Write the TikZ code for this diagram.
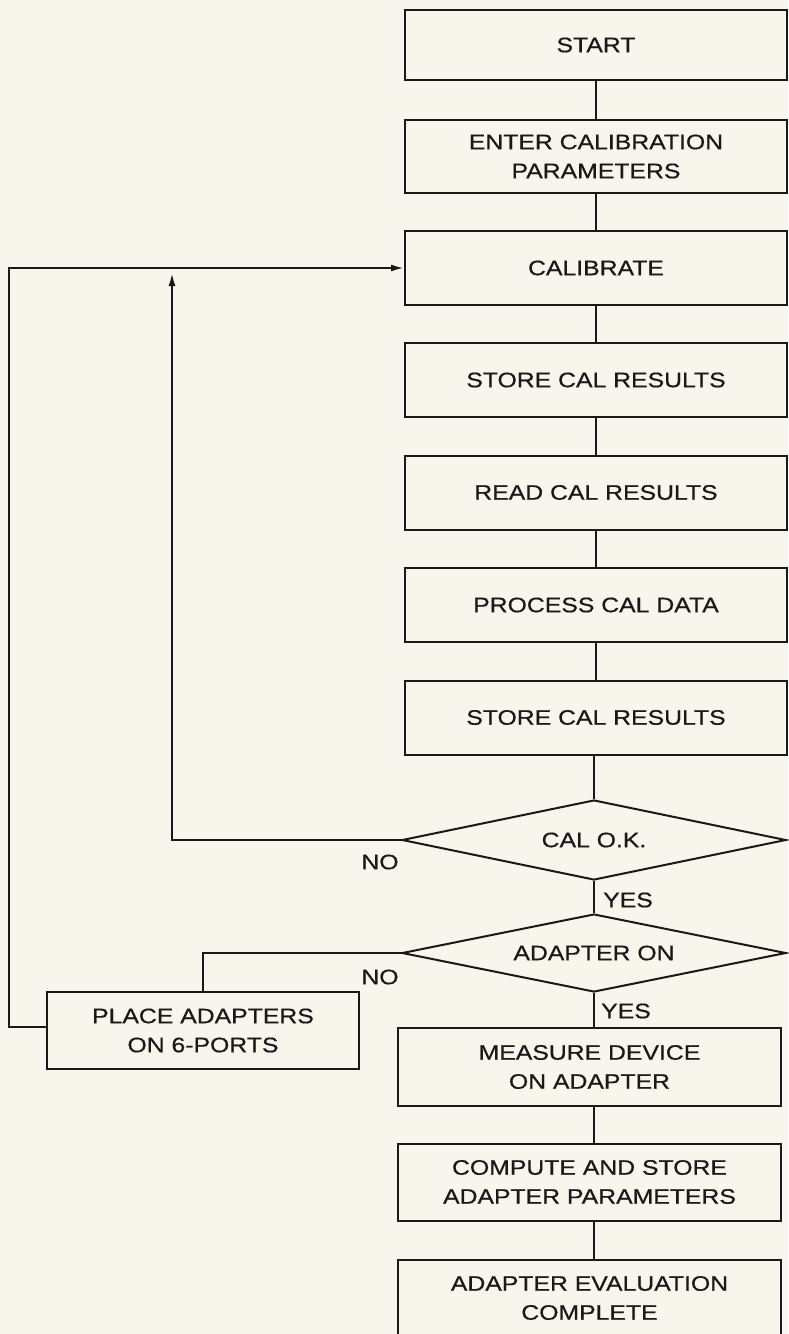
\documentclass[tikz,border=0pt]{standalone}
\usepackage{fontspec}
\setmainfont{Liberation Sans}[FakeStretch=1.18,FakeBold=0.6]
\usetikzlibrary{shapes.geometric,arrows.meta}
\definecolor{paper}{RGB}{247,245,236}
\definecolor{ink}{RGB}{25,25,25}
\begin{document}
\begin{tikzpicture}[x=1pt,y=-1pt,
  every node/.style={font=\fontsize{21}{29}\selectfont, text=ink},
  box/.style={draw=ink, line width=2pt, rectangle, align=center, inner sep=0pt},
  topbox/.style={box, minimum width=382pt, minimum height=74pt},
  lowbox/.style={box, minimum width=383pt, minimum height=77pt},
  dec/.style={draw=ink, line width=2pt, diamond, aspect=4.8, inner sep=0pt, minimum width=384pt, minimum height=80pt},
  link/.style={draw=ink, line width=2pt},
  arr/.style={link, -{Latex[length=13pt,width=7pt]}},
  lab/.style={inner sep=0pt}]
\fill[paper] (0,0) rectangle (788,1334);
\useasboundingbox (0,0) rectangle (788,1334);

\node[topbox, minimum height=70pt] (start) at (596,45) {START};
\node[topbox, minimum height=73pt] (enter) at (596,156.5) {ENTER CALIBRATION\\PARAMETERS};
\node[topbox] (calib) at (596,268) {CALIBRATE};
\node[topbox] (store1) at (596,380) {STORE CAL RESULTS};
\node[topbox] (read) at (596,492.5) {READ CAL RESULTS};
\node[topbox] (process) at (596,605) {PROCESS CAL DATA};
\node[topbox] (store2) at (596,717.5) {STORE CAL RESULTS};
\node[dec] (calok) at (594,840) {CAL O.K.};
\node[dec, minimum height=78pt] (adapter) at (594,953) {ADAPTER ON};
\node[box, minimum width=312pt, minimum height=77pt] (place) at (203,1030.5) {PLACE ADAPTERS\\ON 6-PORTS};
\node[lowbox, minimum height=78pt] (measure) at (589.5,1067) {MEASURE DEVICE\\ON ADAPTER};
\node[lowbox] (compute) at (589.5,1182) {COMPUTE AND STORE\\ADAPTER PARAMETERS};
\node[lowbox] (eval) at (589.5,1298) {ADAPTER EVALUATION\\COMPLETE};

\node[lab] (no1) at (380,862) {NO};
\node[lab] (yes1) at (628,900) {YES};
\node[lab] (no2) at (380,977) {NO};
\node[lab] (yes2) at (626,1011) {YES};

\coordinate (noup) at (172,273);
\coordinate (loop) at (9,1027);

\draw[link] (start.south) -- (enter.north);
\draw[link] (enter.south) -- (calib.north);
\draw[link] (calib.south) -- (store1.north);
\draw[link] (store1.south) -- (read.north);
\draw[link] (read.south) -- (process.north);
\draw[link] (process.south) -- (store2.north);
\draw[link] (store2.south -| calok.north) -- (calok.north);
\draw[link] (calok.south) -- (adapter.north);
\draw[link] (adapter.south) -- (adapter.south |- measure.north);
\draw[link] (measure.south -| adapter.south) -- (compute.north -| adapter.south);
\draw[link] (compute.south -| adapter.south) -- (eval.north -| adapter.south);
\draw[arr] (calok.west) -| (noup);
\draw[link] (adapter.west) -| (place.north);
\draw[arr] (place.west |- loop) -- (loop) |- (calib.west);
\end{tikzpicture}
\end{document}
